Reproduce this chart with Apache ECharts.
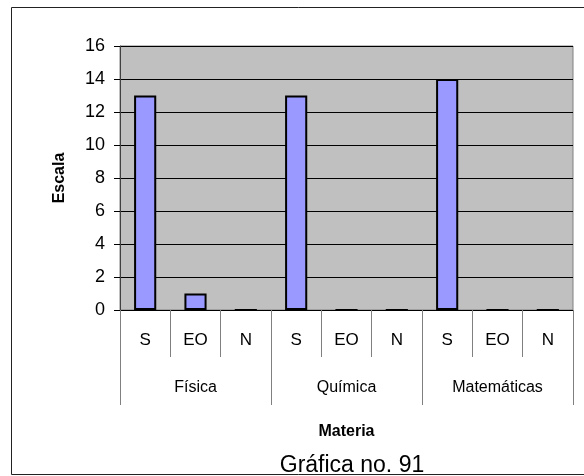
<!DOCTYPE html>
<html>
<head>
<meta charset="utf-8">
<script src="https://cdn.jsdelivr.net/npm/echarts@6/dist/echarts.min.js"></script>
<style>
  html, body { margin: 0; padding: 0; background: #fff; }
  #chart { width: 584px; height: 476px; }
</style>
</head>
<body>
<div id="chart"></div>
<script>
// datos de la gráfica
var subLabels = ['S', 'EO', 'N', 'S', 'EO', 'N', 'S', 'EO', 'N'];
var materias = ['Física', 'Química', 'Matemáticas'];
var valores = [13, 1, 0, 13, 0, 0, 14, 0, 0];
var yTicks = { min: 0, max: 16, step: 2 };

var font = 'Liberation Sans';
var myChart = echarts.init(document.getElementById('chart'));
myChart.setOption({
    animation: false,
    title: {
        text: 'Gráfica no. 91',
        left: 347,
        top: 449,
        textAlign: 'center',
        textStyle: { fontFamily: font, fontSize: 23, fontWeight: 'normal', color: '#000' }
    },
    graphic: [
        {
            type: 'rect',
            shape: { x: 11.5, y: 7.5, width: 590, height: 467 },
            style: { fill: 'none', stroke: '#222', lineWidth: 1 },
            z: 100
        }
    ],
    grid: {
        left: 120,
        right: 11,
        top: 46,
        bottom: 166,
        show: true,
        backgroundColor: '#c0c0c0',
        borderColor: '#808080',
        borderWidth: 1
    },
    xAxis: [
        {
            type: 'category',
            data: subLabels,
            position: 'bottom',
            axisLine: { show: true, lineStyle: { color: '#000' } },
            axisTick: { show: true, interval: 0, length: 47, lineStyle: { color: '#808080' } },
            axisLabel: { interval: 0, margin: 22, fontFamily: font, fontSize: 17, color: '#000' }
        },
        {
            type: 'category',
            data: materias,
            position: 'bottom',
            axisLine: { show: false },
            axisTick: { show: true, interval: 0, length: 95, lineStyle: { color: '#808080' } },
            axisLabel: { interval: 0, margin: 70, fontFamily: font, fontSize: 16, color: '#000' },
            name: 'Materia',
            nameLocation: 'middle',
            nameGap: 114,
            nameTextStyle: { fontFamily: font, fontSize: 16, fontWeight: 'bold', color: '#000' }
        }
    ],
    yAxis: {
        type: 'value',
        min: yTicks.min,
        max: yTicks.max,
        interval: yTicks.step,
        name: 'Escala',
        nameLocation: 'middle',
        nameGap: 52,
        nameTextStyle: { fontFamily: font, fontSize: 16, fontWeight: 'bold', color: '#000' },
        axisLine: { show: true, lineStyle: { color: '#404040' } },
        axisTick: { show: true, length: 6, lineStyle: { color: '#000' } },
        axisLabel: { margin: 15, fontFamily: font, fontSize: 18, color: '#000' },
        splitLine: { lineStyle: { color: '#000', width: 1 } }
    },
    series: [
        {
            type: 'bar',
            xAxisIndex: 0,
            data: valores,
            barWidth: '44%',
            itemStyle: { color: '#9999ff', borderColor: '#000', borderWidth: 2 }
        }
    ]
});
</script>
</body>
</html>
